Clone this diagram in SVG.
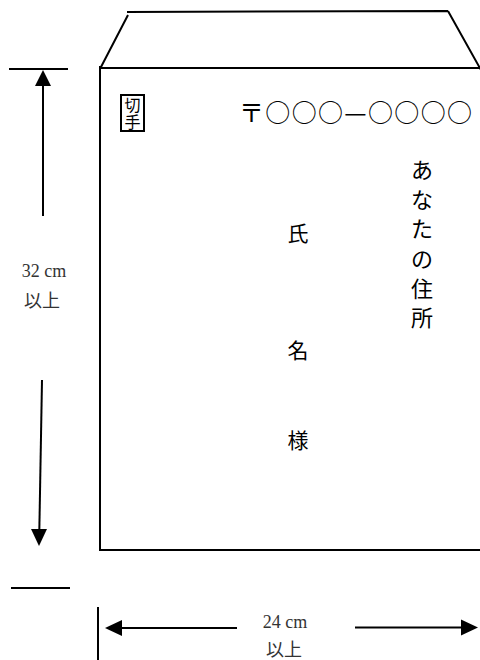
<svg xmlns="http://www.w3.org/2000/svg" width="480" height="660" viewBox="0 0 480 660">
<defs>
<style>
.ln{stroke:#000;stroke-width:2;fill:none}
.jp{font-family:"Noto Sans CJK JP","Noto Sans",sans-serif;fill:#000}
.sr{font-family:"Liberation Serif","Noto Sans CJK JP",serif;fill:#333}
</style>
</defs>
<rect width="480" height="660" fill="#fff"/>
<g id="envelope">
<path class="ln" d="M127,12 L448,11 M128,15 L101,67 M448,11 L481,70 M100,68 L480,68 M100,66 L100,550 L481,550"/>
</g>
<g id="stamp">
<rect class="ln" x="121" y="95" width="23" height="36"/>
<text class="jp" x="132.5" y="111" font-size="16" text-anchor="middle">切</text>
<text class="jp" x="132.5" y="128" font-size="16" text-anchor="middle">手</text>
</g>
<g id="postcode">
<text class="jp" x="239" y="122" font-size="25" textLength="233" lengthAdjust="spacing">〒○○○—○○○○</text>
</g>
<g id="address" class="jp" font-size="22" text-anchor="middle">
<text x="422" y="178">あ</text>
<text x="422" y="208">な</text>
<text x="422" y="237">た</text>
<text x="422" y="267">の</text>
<text x="422" y="297">住</text>
<text x="422" y="326">所</text>
</g>
<g id="name" class="jp" font-size="21" text-anchor="middle">
<text x="298" y="241">氏</text>
<text x="298" y="358">名</text>
<text x="298" y="448">様</text>
</g>
<g id="connectors">
<line class="ln" x1="9" y1="69" x2="68" y2="69"/>
<line class="ln" x1="43" y1="216" x2="43" y2="84"/>
<path d="M43,70 L35,86 L51,86 z" fill="#000"/>
<line class="ln" x1="42" y1="380" x2="39.3" y2="532"/>
<path d="M39,546 L31,529 L47,529 z" fill="#000"/>
<line class="ln" x1="11" y1="588" x2="70" y2="588"/>
<line class="ln" x1="98" y1="607" x2="98" y2="660"/>
<line class="ln" x1="120" y1="628" x2="237" y2="628"/>
<path d="M105,628 L122,620 L122,636 z" fill="#000"/>
<line class="ln" x1="355" y1="627.5" x2="464" y2="627.5"/>
<path d="M478,627.5 L461,619.5 L461,635.5 z" fill="#000"/>
</g>
<g id="labels">
<text class="sr" x="44" y="277" text-anchor="middle" font-size="18">32 cm</text>
<text class="sr" x="42" y="307" text-anchor="middle" font-size="18">以上</text>
<text class="sr" x="285" y="628" text-anchor="middle" font-size="18">24 cm</text>
<text class="sr" x="284" y="656" text-anchor="middle" font-size="18">以上</text>
</g>
</svg>
